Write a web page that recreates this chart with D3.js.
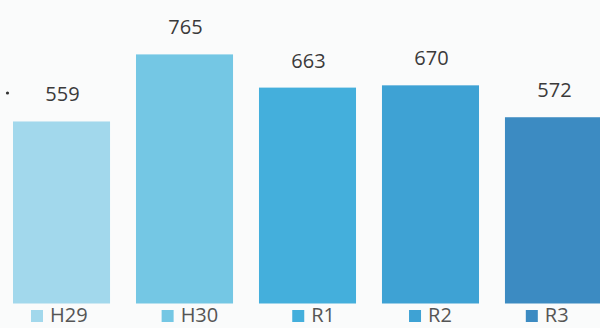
<!DOCTYPE html>
<html>
<head>
<meta charset="utf-8">
<script src="https://cdn.jsdelivr.net/npm/d3@7"></script>
<style>
  html, body { margin: 0; padding: 0; background: #fafbfb; }
  svg { display: block; }
</style>
</head>
<body>
<svg id="bar_chart" width="600" height="328"></svg>
<script>
// data
var years = ["H29", "H30", "R1", "R2", "R3"];
var counts = [559, 765, 663, 670, 572];
var colors = ["#a2d8ec", "#74c7e4", "#44afdc", "#3ea2d4", "#3c8bc2"];

var svg = d3.select("#bar_chart"),
	width = +svg.attr("width"),
	height = +svg.attr("height");

var data = years.map((d, i) => ({year: d, value: counts[i]}));

var x = d3.scaleBand()
	.domain(years)
	.range([13, 602])
	.paddingInner(0.211)
	.paddingOuter(0);

var y = d3.scaleLinear()
	.domain([0, 800])
	.range([303.5, 43]);

var color = d3.scaleOrdinal()
	.domain(years)
	.range(colors);

// stray dot from the scan
svg.append("circle")
	.attr("cx", 7.5)
	.attr("cy", 93)
	.attr("r", 1.6)
	.attr("fill", "#333");

svg.selectAll("rect.bar")
	.data(data)
	.enter().append("rect")
	.attr("class", "bar")
	.attr("x", d => x(d.year))
	.attr("y", d => y(d.value))
	.attr("width", x.bandwidth())
	.attr("height", d => y(0) - y(d.value))
	.attr("fill", d => color(d.year));

svg.selectAll("text.val")
	.data(data)
	.enter().append("text")
	.attr("class", "val")
	.attr("x", d => x(d.year) + x.bandwidth() / 2 + 1)
	.attr("y", d => y(d.value) - 20)
	.attr("text-anchor", "middle")
	.style("font-family", "'Open Sans', sans-serif")
	.style("font-size", "20px")
	.attr("fill", "#3a3a3a")
	.text(d => d.value);

// legend: items laid out one after another like an office chart
var legend = svg.append("g").attr("class", "legend");
var lx = 31;
years.forEach(function(k) {
	var g = legend.append("g").attr("transform", `translate(${lx},0)`);
	g.append("rect")
		.attr("x", 0)
		.attr("y", 310)
		.attr("width", 12)
		.attr("height", 12)
		.attr("fill", color(k));
	var t = g.append("text")
		.attr("x", 19)
		.attr("y", 322)
		.style("font-family", "'Open Sans', sans-serif")
		.style("font-size", "20px")
		.attr("fill", "#555")
		.text(k);
	lx += 19 + t.node().getComputedTextLength() + 74;
});
</script>
</body>
</html>
